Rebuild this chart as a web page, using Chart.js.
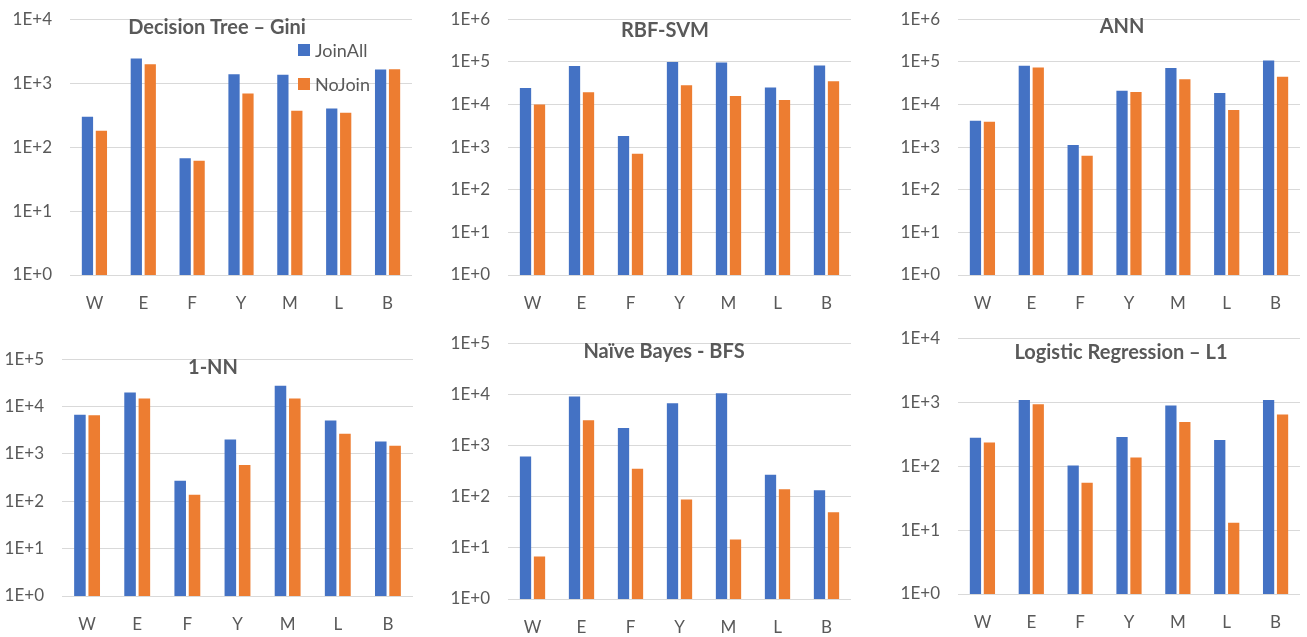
<!DOCTYPE html>
<html lang="en">
<head>
    <meta charset="UTF-8">
    <title>Training time: JoinAll vs NoJoin</title>
    <script src="https://cdn.jsdelivr.net/npm/chart.js"></script>
    <style>
        body {
            margin: 0;
            background-color: #ffffff;
            width: 1307px;
            height: 637px;
            overflow: hidden;
            position: relative;
        }
        canvas {
            position: absolute;
        }
    </style>
</head>
<body>
    <canvas id="dtChart"></canvas>
    <canvas id="svmChart"></canvas>
    <canvas id="annChart"></canvas>
    <canvas id="nnChart"></canvas>
    <canvas id="nbChart"></canvas>
    <canvas id="lrChart"></canvas>

    <script>
        const categories = ['W', 'E', 'F', 'Y', 'M', 'L', 'B'];
        const seriesNames = ['JoinAll', 'NoJoin'];

        const ticksTo4 = ['1E+0', '1E+1', '1E+2', '1E+3', '1E+4'];
        const ticksTo5 = ['1E+0', '1E+1', '1E+2', '1E+3', '1E+4', '1E+5'];
        const ticksTo6 = ['1E+0', '1E+1', '1E+2', '1E+3', '1E+4', '1E+5', '1E+6'];

        const dtJoinAll = [297, 2420, 67, 1380, 1350, 400, 1640];
        const dtNoJoin = [180, 1980, 61, 690, 370, 346, 1650];

        const svmJoinAll = [24200, 79500, 1830, 99700, 97000, 25100, 82300];
        const svmNoJoin = [10000, 19300, 700, 28400, 15900, 12700, 35000];

        const annJoinAll = [4150, 80900, 1120, 21100, 71600, 18700, 107000];
        const annNoJoin = [3940, 74100, 630, 19700, 38800, 7390, 44700];

        const nnJoinAll = [6730, 19900, 270, 2010, 27600, 5080, 1830];
        const nnNoJoin = [6530, 14800, 138, 583, 14800, 2670, 1490];

        const nbJoinAll = [613, 9060, 2210, 6670, 10500, 267, 133];
        const nbNoJoin = [6.8, 3130, 353, 88.5, 14.6, 139, 49.4];

        const lrJoinAll = [277, 1080, 102, 284, 888, 255, 1080];
        const lrNoJoin = [233, 930, 55, 136, 490, 13, 641];

        const BLUE = '#4472C4';
        const ORANGE = '#ED7D31';
        const TEXT = '#595959';
        const FONT = 'Lato, "Open Sans", sans-serif';

        // plot = [left, top, right, bottom] of the plot area on the page
        const panels = [
            { id: 'dtChart', title: 'Decision Tree \u2013 Gini', a: dtJoinAll, b: dtNoJoin, ticks: ticksTo4,
              plot: [70, 11, 412, 275], titleAt: [217, 28], legend: true },
            { id: 'svmChart', title: 'RBF-SVM', a: svmJoinAll, b: svmNoJoin, ticks: ticksTo6,
              plot: [508, 11, 851, 275], titleAt: [665, 31] },
            { id: 'annChart', title: 'ANN', a: annJoinAll, b: annNoJoin, ticks: ticksTo6,
              plot: [958, 11, 1300, 275], titleAt: [1122, 27] },
            { id: 'nnChart', title: '1-NN', a: nnJoinAll, b: nnNoJoin, ticks: ticksTo5,
              plot: [62, 351, 413, 596], titleAt: [213, 368] },
            { id: 'nbChart', title: 'Na\u00efve Bayes - BFS', a: nbJoinAll, b: nbNoJoin, ticks: ticksTo5,
              plot: [508, 335, 851, 599], titleAt: [664, 352] },
            { id: 'lrChart', title: 'Logistic Regression \u2013 L1', a: lrJoinAll, b: lrNoJoin, ticks: ticksTo4,
              plot: [958, 330, 1300, 594], titleAt: [1121, 353] }
        ];

        const Y_AXIS_W = 70;
        const X_AXIS_H = 40;
        const PAD_TOP = 20;
        const PAD_RIGHT = 15;

        // title (and legend for the first panel) sit inside the plot, Excel style
        const overlayText = {
            id: 'overlayText',
            afterDraw(chart, args, opts) {
                const ctx = chart.ctx;
                ctx.save();
                ctx.fillStyle = TEXT;
                ctx.font = 'bold 20px ' + FONT;
                ctx.textAlign = 'center';
                ctx.textBaseline = 'middle';
                ctx.fillText(opts.text, opts.x, opts.y);
                if (opts.legend) {
                    ctx.font = '18px ' + FONT;
                    ctx.textAlign = 'left';
                    chart.data.datasets.forEach((ds, i) => {
                        const y = opts.legendY[i];
                        ctx.fillStyle = ds.backgroundColor;
                        ctx.fillRect(opts.legendX, y - 6, 12, 12);
                        ctx.fillStyle = TEXT;
                        ctx.fillText(ds.label, opts.legendX + 17, y + 1);
                    });
                }
                ctx.restore();
            }
        };

        panels.forEach(p => {
            const [pl, pt, pr, pb] = p.plot;
            const left = pl - Y_AXIS_W;
            const top = pt - PAD_TOP;
            const width = pr + PAD_RIGHT - left;
            const height = pb + X_AXIS_H - top;

            const canvas = document.getElementById(p.id);
            canvas.width = width;
            canvas.height = height;
            canvas.style.left = left + 'px';
            canvas.style.top = top + 'px';
            canvas.style.width = width + 'px';
            canvas.style.height = height + 'px';

            const tickValues = p.ticks.map(Number);

            new Chart(canvas.getContext('2d'), {
                type: 'bar',
                data: {
                    labels: categories,
                    datasets: [
                        { label: seriesNames[0], data: p.a, backgroundColor: BLUE },
                        { label: seriesNames[1], data: p.b, backgroundColor: ORANGE }
                    ]
                },
                options: {
                    responsive: false,
                    animation: false,
                    layout: { padding: { top: PAD_TOP, left: 0, right: PAD_RIGHT, bottom: 0 } },
                    datasets: { bar: { categoryPercentage: 0.571, barPercentage: 0.807 } },
                    plugins: {
                        legend: { display: false },
                        title: { display: false },
                        tooltip: { enabled: false },
                        overlayText: {
                            text: p.title,
                            x: p.titleAt[0] - left,
                            y: p.titleAt[1] - top,
                            legend: !!p.legend,
                            legendX: 298 - left,
                            legendY: [50 - top, 84 - top]
                        }
                    },
                    scales: {
                        x: {
                            grid: { display: false },
                            border: { display: false },
                            ticks: { color: TEXT, font: { family: FONT, size: 17 }, padding: 10, maxRotation: 0 },
                            afterFit: s => { s.height = X_AXIS_H; }
                        },
                        y: {
                            type: 'logarithmic',
                            min: tickValues[0],
                            max: tickValues[tickValues.length - 1],
                            grid: { color: '#D9D9D9', lineWidth: 1, drawTicks: false },
                            border: { display: false },
                            ticks: {
                                color: TEXT,
                                font: { family: FONT, size: 17 },
                                padding: 18,
                                autoSkip: false,
                                callback: (v, i) => p.ticks[i]
                            },
                            afterBuildTicks: s => { s.ticks = tickValues.map(v => ({ value: v })); },
                            afterFit: s => { s.width = Y_AXIS_W; }
                        }
                    }
                },
                plugins: [overlayText]
            });
        });
    </script>
</body>
</html>
